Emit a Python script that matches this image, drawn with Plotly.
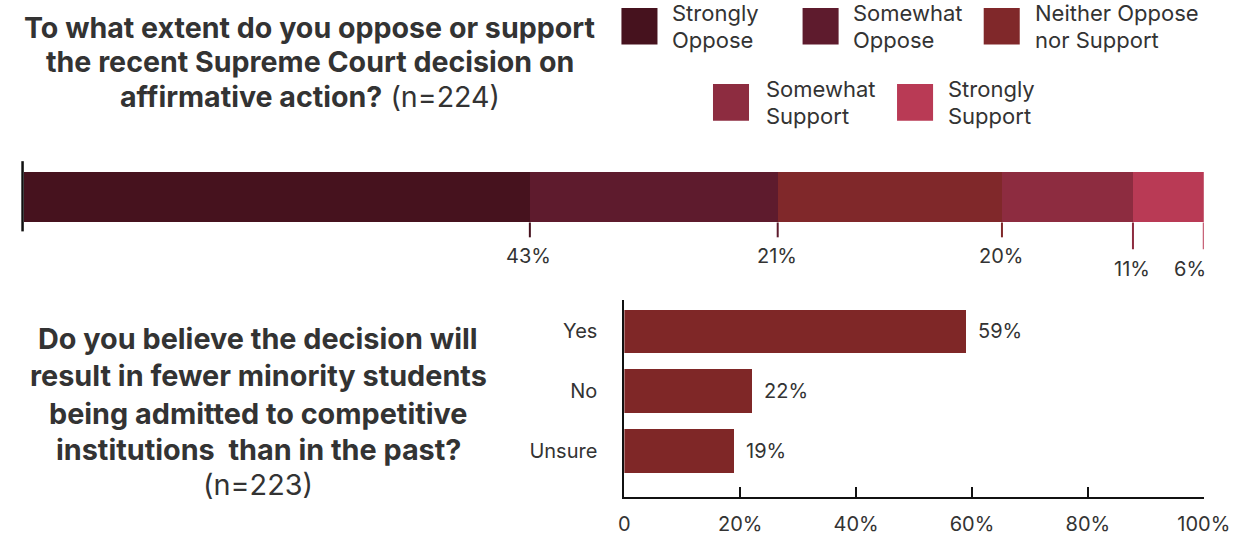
import plotly.graph_objects as go

W, H = 1260, 536

def px(x):
    return x / W

def py(y):
    return 1 - y / H

# ---------------- data ----------------
support_categories = ["Strongly Oppose", "Somewhat Oppose", "Neither Oppose nor Support",
                      "Somewhat Support", "Strongly Support"]
legend_lines = [["Strongly", "Oppose"], ["Somewhat", "Oppose"], ["Neither Oppose", "nor Support"],
                ["Somewhat", "Support"], ["Strongly", "Support"]]
support_shares = [42.9, 21.0, 19.0, 11.1, 6.0]          # drawn widths
support_labels = ["43%", "21%", "20%", "11%", "6%"]      # printed labels
support_colors = ["#46121e", "#5e1b2d", "#80282a", "#8d2c40", "#b93a55"]

result_categories = ["Yes", "No", "Unsure"]
result_values = [59, 22, 19]
result_color = "#7f2727"

x_ticks = [0, 20, 40, 60, 80, 100]
x_tick_labels = ["0", "20%", "40%", "60%", "80%", "100%"]

TEXT = "#333333"
BOLD_FONT = "Inter"
REG_FONT = "Inter"

fig = go.Figure()

# ---------- top stacked bar ----------
for cat, val, col in zip(support_categories, support_shares, support_colors):
    fig.add_trace(go.Bar(
        y=[0], x=[val], orientation="h", name=cat, width=1,
        marker=dict(color=col, line=dict(width=0)),
        xaxis="x", yaxis="y", showlegend=False, hoverinfo="skip",
    ))

# ---------- bottom bar chart ----------
fig.add_trace(go.Bar(
    y=result_categories, x=result_values, orientation="h",
    marker=dict(color=result_color, line=dict(width=0)),
    xaxis="x2", yaxis="y2", showlegend=False, hoverinfo="skip",
))

shapes = []
annotations = []

# ticks + labels under the stacked bar
cum = 0
for i, (val, lab, col) in enumerate(zip(support_shares, support_labels, support_colors)):
    cum += val
    long_tick = i >= 3
    shapes.append(dict(type="line", xref="x", yref="paper", x0=cum, x1=cum,
                       y0=py(225), y1=py(252 if long_tick else 240),
                       line=dict(color=col, width=2)))
    if i == len(support_shares) - 1:
        annotations.append(dict(x=cum, xref="x", y=py(272), yref="paper", text=lab,
                                showarrow=False, xanchor="right", yanchor="middle", xshift=4,
                                font=dict(family=REG_FONT, size=20, color=TEXT)))
    else:
        annotations.append(dict(x=cum, xref="x", y=py(272 if long_tick else 259), yref="paper",
                                text=lab, showarrow=False, xanchor="center", yanchor="middle",
                                xshift=-1,
                                font=dict(family=REG_FONT, size=20, color=TEXT)))

# black left marker line of stacked bar
shapes.append(dict(type="line", xref="paper", yref="paper", x0=px(17), x1=px(17),
                   y0=py(163), y1=py(234), line=dict(color="#111111", width=2.5)))

# legend (manual)
legend_pos = [(632, 8, 682), (818, 8, 868), (1004, 8, 1055), (726, 85, 778), (915, 85, 965)]
for (sx, sy, tx), lines, col in zip(legend_pos, legend_lines, support_colors):
    shapes.append(dict(type="rect", xref="paper", yref="paper",
                       x0=px(sx), x1=px(sx + 37), y0=py(sy + 37), y1=py(sy),
                       fillcolor=col, line=dict(width=0)))
    for k, t in enumerate(lines):
        annotations.append(dict(x=px(tx), y=py(sy + 5 + 27 * k), xref="paper", yref="paper",
                                text=t, showarrow=False, xanchor="left", yanchor="middle",
                                font=dict(family=REG_FONT, size=22, color=TEXT)))

# titles
title1 = ["<b>To what extent do you oppose or support</b>",
          "<b>the recent Supreme Court decision on</b>",
          "<b>affirmative action?</b> (n=224)"]
for t, y in zip(title1, [28, 62, 98]):
    annotations.append(dict(x=px(312), y=py(y), xref="paper", yref="paper", text=t,
                            showarrow=False, xanchor="center", yanchor="middle",
                            font=dict(family=BOLD_FONT, size=28.6, color=TEXT)))

title2 = ["<b>Do you believe the decision will</b>",
          "<b>result in fewer minority students</b>",
          "<b>being admitted to competitive</b>",
          "<b>institutions  than in the past?</b>",
          "(n=223)"]
for t, y in zip(title2, [342, 380, 418, 455, 490]):
    annotations.append(dict(x=px(259), y=py(y), xref="paper", yref="paper", text=t,
                            showarrow=False, xanchor="center", yanchor="middle",
                            font=dict(family=BOLD_FONT, size=28.8, color=TEXT)))

# value labels on the bottom bars
for cat, val in zip(result_categories, result_values):
    annotations.append(dict(x=val, y=cat, xref="x2", yref="y2", text=f"{val}%",
                            showarrow=False, xanchor="left", yanchor="middle", xshift=10,
                            font=dict(family=REG_FONT, size=20, color=TEXT)))

fig.update_layout(
    width=W, height=H,
    margin=dict(l=0, r=0, t=0, b=0),
    paper_bgcolor="white", plot_bgcolor="white",
    barmode="stack", bargap=0.273,
    showlegend=False,
    xaxis=dict(domain=[px(18), px(1230)], range=[0, 100], visible=False, fixedrange=True),
    yaxis=dict(domain=[py(225), py(174)], range=[-0.5, 0.5], visible=False, fixedrange=True),
    xaxis2=dict(domain=[px(635), px(1230)], range=[0, 100], anchor="y2",
                tickvals=x_ticks, ticktext=x_tick_labels,
                ticks="inside", ticklen=10, tickwidth=2, tickcolor="#111111",
                showline=True, linecolor="#111111", linewidth=2,
                showgrid=False, zeroline=False, ticklabelstandoff=8,
                tickfont=dict(family=REG_FONT, size=20, color=TEXT)),
    yaxis2=dict(domain=[py(503), py(303)], anchor="x2", type="category",
                categoryarray=result_categories, categoryorder="array",
                range=[2.777, -0.529],
                showline=True, linecolor="#111111", linewidth=2,
                ticks="", showgrid=False, zeroline=False, ticklabelstandoff=21,
                tickfont=dict(family=REG_FONT, size=20, color=TEXT)),
    shapes=shapes,
    annotations=annotations,
)

fig.write_html("out.html",
               post_script="document.body.style.margin='0';document.body.style.overflow='hidden';")
